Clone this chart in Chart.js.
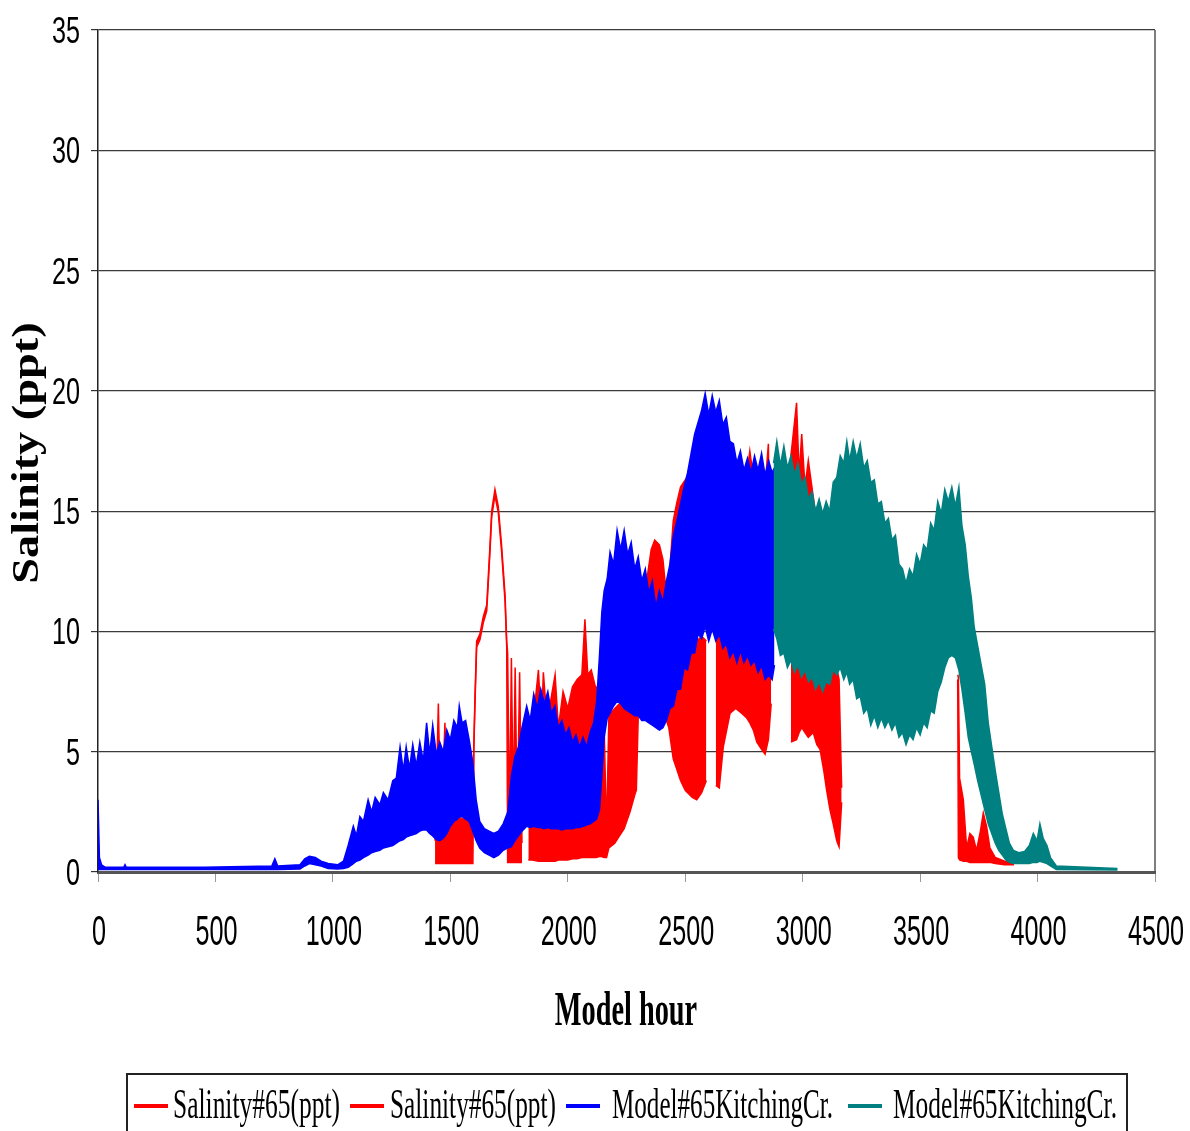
<!DOCTYPE html>
<html><head><meta charset="utf-8">
<script src="https://cdn.jsdelivr.net/npm/chart.js@4/dist/chart.umd.min.js"></script>
<style>html,body{margin:0;padding:0;background:#fff;}#wrap{width:1190px;height:1131px;position:relative;}</style>
</head><body><div id="wrap"><canvas id="c"></canvas></div>
<script>
// ---------- DATA ----------
const xTicks = [0, 500, 1000, 1500, 2000, 2500, 3000, 3500, 4000, 4500];
const yTicks = [0, 5, 10, 15, 20, 25, 30, 35];
const seriesNames = ['Salinity#65(ppt)', 'Salinity#65(ppt)', 'Model#65KitchingCr.', 'Model#65KitchingCr.'];
const xTitle = 'Model hour';
const yTitle = 'Salinity (ppt)';

// Observed salinity, first record (null = gap)
const salinity1Hours = [1435,1449,1460,1477,1490,1505,1530,1555,1580,1596,1600,1605,1612,1626,1640,1655,1669,1676,1690,1704,1718,1733,1740,1744,1752,1760,1768,1776,1785,1795,1805,1815,1832,1850,1875,1888,1896,1910,1925,1946,1960,1980,2000,2020,2040,2060,2073,2085,2100,2120,2140,2155,2165,2175,2200,2220,2240,2265,2285,2292,2300,2336,2355,2370,2390,2405,2414,2430,2449,2463,2480,2500,2510,2530,2549,2570,2590,2610,2630,2645,2662,2691,2715,2740,2762,2775,2790,2805,2825,2840,2854,2866];
const salinity1High = [1.3,7.0,1.4,6.2,1.5,2.0,2.3,2.2,2.3,2.3,5.3,7.3,9.6,9.9,10.6,11.1,13.6,15.0,15.9,15.2,13.6,11.5,9.6,9.1,2.0,8.9,2.5,8.5,2.0,8.3,1.2,null,2.0,6.0,8.4,6.0,8.3,6.5,7.0,8.2,6.0,7.5,6.8,7.7,8.0,8.2,10.5,8.2,8.4,7.6,8.0,6.0,1.6,6.5,6.8,7.0,6.9,6.8,6.6,6.6,11.0,12.1,13.4,13.8,13.6,13.0,12.1,12.0,14.6,15.3,16.0,16.3,9.5,9.2,9.6,9.8,9.6,null,10.4,10.4,9.6,9.4,9.3,9.4,16.5,17.5,16.4,9.0,9.0,16.0,17.8,9.0];
const salinity1Low = [0.35,0.35,0.35,0.35,0.35,0.35,0.35,0.35,0.35,0.35,5.05,7.05,9.35,9.65,10.35,10.85,13.35,14.75,15.65,14.95,13.35,11.25,9.35,0.4,0.4,0.4,0.4,0.4,0.4,0.4,0.4,null,0.5,0.5,0.45,0.45,0.45,0.45,0.45,0.45,0.5,0.5,0.5,0.55,0.55,0.6,0.6,0.6,0.6,0.6,0.65,0.6,0.6,1.0,1.2,1.5,1.8,2.5,3.2,3.4,6.5,6.5,6.5,6.5,6.5,6.5,6.5,6.0,4.7,4.3,3.8,3.4,3.3,3.1,3.0,3.3,3.8,null,3.6,3.5,5.2,6.6,6.8,6.6,6.4,6.2,5.9,5.4,5.1,4.9,5.5,7.0];

// Observed salinity, second record
const salinity2Hours = [2950,2974,2985,2996,3010,3024,3045,3060,3074,3090,3102,3116,3130,3145,3155,3166,3400,3660,3663,3668,3684,3698,3712,3726,3740,3755,3769,3783,3797,3820,3860,3900];
const salinity2High = [17.3,19.5,16.5,18.2,16.0,17.1,15.6,14.5,15.2,14.0,15.0,9.0,8.8,8.5,8.0,3.5,null,8.2,8.1,3.9,3.0,1.0,1.6,1.45,0.9,1.6,2.45,1.9,1.0,0.6,0.45,0.4];
const salinity2Low = [5.4,5.5,5.8,6.0,5.8,5.6,5.8,5.3,5.1,4.2,3.4,2.6,2.0,1.3,1.05,2.9,null,8.0,0.6,0.5,0.45,0.45,0.4,0.4,0.4,0.4,0.4,0.4,0.4,0.35,0.3,0.3];

// Model, first part (blue)
const model1Hours = [0,6,15,30,110,115,120,450,740,753,765,860,880,900,925,950,980,1020,1045,1065,1087,1100,1115,1130,1150,1165,1180,1200,1215,1235,1255,1270,1286,1300,1312,1326,1340,1355,1370,1385,1399,1412,1425,1440,1455,1470,1485,1500,1515,1530,1538,1550,1565,1580,1595,1610,1625,1645,1665,1685,1705,1725,1745,1760,1775,1790,1805,1825,1840,1855,1870,1885,1900,1915,1930,1945,1960,1975,1990,2005,2020,2035,2050,2065,2080,2095,2110,2123,2135,2145,2155,2168,2180,2195,2210,2225,2240,2255,2270,2285,2300,2315,2330,2345,2360,2375,2390,2405,2420,2435,2450,2465,2480,2495,2510,2525,2540,2555,2570,2585,2600,2615,2630,2645,2660,2675,2690,2705,2720,2735,2750,2765,2780,2795,2810,2825,2840,2855,2870,2880];
const model1High = [3.0,0.6,0.3,0.2,0.2,0.3,0.2,0.2,0.25,0.55,0.25,0.3,0.55,0.65,0.6,0.45,0.35,0.3,0.45,1.1,1.9,1.5,2.3,2.1,3.0,2.5,3.1,2.8,3.3,3.0,3.8,3.9,5.2,4.2,5.2,4.3,5.3,4.4,5.4,4.6,6.2,4.9,6.1,4.9,5.4,5.0,5.9,5.5,6.3,6.0,6.9,6.2,6.3,5.5,4.6,3.0,2.1,1.8,1.7,1.6,1.7,2.0,2.5,4.0,4.8,5.2,6.0,6.9,6.3,7.4,6.8,7.6,7.0,7.5,6.6,6.9,6.0,6.3,5.7,6.0,5.4,5.7,5.2,5.6,5.2,5.8,6.2,7.1,9.0,10.8,11.7,12.2,13.3,12.8,14.2,13.4,14.2,13.2,13.7,12.6,13.1,12.1,12.6,11.6,12.1,11.0,11.7,11.2,12.1,12.8,14.0,14.6,15.3,16.0,16.6,17.4,18.2,18.7,19.2,19.9,19.0,19.8,19.1,19.6,18.6,18.9,17.9,17.8,17.0,17.5,16.7,17.2,16.6,17.3,16.7,17.4,16.5,17.1,16.6,16.8];
const model1Low = [0.1,0.1,0.1,0.1,0.1,0.1,0.1,0.1,0.1,0.1,0.1,0.12,0.25,0.35,0.3,0.25,0.15,0.12,0.15,0.2,0.35,0.45,0.5,0.6,0.7,0.8,0.85,0.9,1.0,1.05,1.1,1.2,1.3,1.35,1.45,1.5,1.55,1.6,1.7,1.75,1.75,1.6,1.5,1.35,1.3,1.4,1.6,1.9,2.1,2.2,2.3,2.3,2.2,2.1,1.7,1.3,1.0,0.8,0.7,0.6,0.7,0.9,1.0,1.05,1.3,1.5,1.7,1.9,1.85,1.9,1.85,1.85,1.8,1.85,1.8,1.8,1.8,1.75,1.8,1.8,1.8,1.85,1.85,1.9,1.95,2.0,2.1,2.2,2.6,4.0,5.6,6.4,6.6,6.9,7.1,7.0,6.8,6.7,6.6,6.5,6.5,6.3,6.3,6.2,6.1,6.0,5.9,6.0,6.3,6.8,6.9,7.6,7.6,8.5,8.4,9.1,9.1,9.9,9.7,10.2,9.6,10.1,9.6,9.9,9.3,9.5,8.9,9.2,8.7,9.2,8.7,9.0,8.6,8.8,8.3,8.6,8.0,8.2,8.0,8.6];

// Model, second part (teal)
const model2Hours = [2876,2890,2905,2920,2935,2950,2965,2980,2995,3010,3025,3040,3055,3070,3085,3100,3115,3130,3145,3160,3175,3188,3200,3215,3230,3245,3260,3275,3290,3305,3320,3335,3350,3365,3380,3395,3410,3425,3440,3455,3470,3485,3500,3515,3530,3545,3560,3575,3590,3605,3620,3635,3650,3665,3678,3692,3705,3718,3730,3745,3760,3775,3790,3805,3820,3835,3850,3865,3880,3897,3920,3945,3965,3982,3998,4010,4024,4040,4055,4080,4340];
const model2High = [17.0,17.9,16.9,17.7,16.8,17.3,16.5,17.0,16.1,16.4,15.5,15.8,15.0,15.5,14.9,15.4,15.0,16.2,16.4,17.3,17.0,17.9,17.1,17.9,17.2,17.8,16.8,17.1,16.2,16.3,15.3,15.4,14.5,14.7,13.8,14.0,12.8,12.6,12.0,12.6,12.3,13.2,12.8,13.6,13.4,14.5,14.2,15.4,14.9,15.9,15.4,16.0,15.2,16.0,14.4,13.6,12.3,11.4,10.2,9.4,8.6,7.8,6.2,5.2,4.2,3.3,2.4,1.8,1.2,0.9,0.8,0.85,1.1,1.6,1.3,2.0,1.4,1.1,0.6,0.25,0.15];
const model2Low = [10.1,9.7,9.0,9.1,8.5,8.8,8.3,8.6,8.1,8.4,7.9,8.1,7.6,7.9,7.5,7.9,7.8,8.4,8.2,8.5,8.0,8.3,7.8,8.0,7.2,7.3,6.6,6.8,6.1,6.5,6.0,6.4,6.0,6.3,5.9,6.2,5.6,5.8,5.3,5.7,5.5,6.0,5.7,6.2,6.0,6.7,6.6,7.5,7.9,8.5,8.9,9.0,8.9,8.4,7.6,6.6,5.6,5.0,4.5,3.8,3.2,2.6,2.0,1.6,1.2,0.9,0.7,0.5,0.4,0.35,0.35,0.35,0.35,0.4,0.4,0.45,0.4,0.35,0.25,0.1,0.08];

// ---------- STYLES ----------
const seriesColors = ['#ff0000', '#ff0000', '#0000ff', '#008080'];

function bandSets(hours, high, low, color, label) {
  const segs = [];
  let seg = null;
  for (let i = 0; i < hours.length; i++) {
    if (high[i] === null || low[i] === null) { seg = null; continue; }
    if (!seg) { seg = { hi: [], lo: [] }; segs.push(seg); }
    seg.hi.push({ x: hours[i], y: high[i] });
    seg.lo.push({ x: hours[i], y: low[i] });
  }
  const out = [];
  segs.forEach(s => {
    out.push({ label: label, data: s.hi, borderColor: color, backgroundColor: color, borderWidth: 1.5, fill: '+1', pointRadius: 0 });
    out.push({ label: label, data: s.lo, borderColor: color, backgroundColor: color, borderWidth: 1.5, fill: false, pointRadius: 0 });
  });
  return out;
}

// index 0 is drawn on top: teal, blue, then the observed records
const datasets = [].concat(
  bandSets(model2Hours, model2High, model2Low, seriesColors[3], seriesNames[3]),
  bandSets(model1Hours, model1High, model1Low, seriesColors[2], seriesNames[2]),
  bandSets(salinity2Hours, salinity2High, salinity2Low, seriesColors[1], seriesNames[1]),
  bandSets(salinity1Hours, salinity1High, salinity1Low, seriesColors[0], seriesNames[0])
);

function squash(ctx, text, x, y, sx) {
  ctx.save(); ctx.translate(x, y); ctx.scale(sx, 1); ctx.fillText(text, 0, 0); ctx.restore();
}

const textPlugin = {
  id: 'texts',
  afterDraw(chart) {
    const ctx = chart.ctx, xs = chart.scales.x, ys = chart.scales.y, a = chart.chartArea;
    ctx.save();
    // right frame edge
    ctx.strokeStyle = '#555'; ctx.lineWidth = 1.5;
    ctx.beginPath(); ctx.moveTo(a.right, a.top); ctx.lineTo(a.right, a.bottom); ctx.stroke();

    ctx.fillStyle = '#000';
    ctx.textBaseline = 'alphabetic';
    // y tick labels
    ctx.font = '36px "Liberation Sans", Arial, sans-serif';
    ctx.textAlign = 'right';
    yTicks.forEach(v => squash(ctx, String(v), a.left - 18, ys.getPixelForValue(v) + 13, 0.7));
    // x tick labels
    ctx.font = '42px "Liberation Sans", Arial, sans-serif';
    ctx.textAlign = 'center';
    xTicks.forEach(v => squash(ctx, String(v), xs.getPixelForValue(v) + 1, a.bottom + 73, 0.6));
    // x title
    ctx.font = 'bold 48px "Liberation Serif", "Times New Roman", serif';
    squash(ctx, xTitle, 626, 1025, 0.59);
    // y title
    ctx.save();
    ctx.translate(38, 453);
    ctx.rotate(-Math.PI / 2);
    ctx.scale(1.22, 1);
    ctx.font = 'bold 38px "Liberation Serif", "Times New Roman", serif';
    ctx.textAlign = 'center';
    ctx.fillText(yTitle, 0, 0);
    ctx.restore();

    // legend
    ctx.strokeStyle = '#222'; ctx.lineWidth = 2;
    ctx.strokeRect(127, 1074, 1000, 80);
    const markX = [134, 350, 566, 848];
    const textX = [173, 390, 612, 893];
    const textW = [167, 166, 221, 224];
    ctx.font = '42px "Liberation Serif", "Times New Roman", serif';
    ctx.textAlign = 'left';
    seriesNames.forEach((n, i) => {
      ctx.strokeStyle = seriesColors[i]; ctx.lineWidth = 4;
      ctx.beginPath(); ctx.moveTo(markX[i], 1106); ctx.lineTo(markX[i] + 34, 1106); ctx.stroke();
      ctx.fillStyle = '#000';
      ctx.fillText(n, textX[i], 1118, textW[i]);
    });
    ctx.restore();
  }
};

new Chart(document.getElementById('c'), {
  type: 'line',
  data: { datasets: datasets },
  options: {
    responsive: true,
    maintainAspectRatio: false,
    animation: false,
    layout: { padding: { left: 98, right: 35, top: 30, bottom: 259 } },
    plugins: { legend: { display: false }, tooltip: { enabled: false } },
    elements: { point: { radius: 0 }, line: { tension: 0 } },
    scales: {
      x: {
        type: 'linear', min: 0, max: 4500,
        ticks: { stepSize: 500, display: false },
        grid: { drawOnChartArea: false, drawTicks: true, tickLength: 10, color: '#999', tickColor: '#999' },
        border: { display: true, color: '#555', width: 3 },
        afterFit: s => { s.height = 0; }
      },
      y: {
        type: 'linear', min: 0, max: 35,
        ticks: { stepSize: 5, display: false },
        grid: { color: '#3a3a3a', lineWidth: 1.2, drawTicks: true, tickLength: 7, tickColor: '#333' },
        border: { display: true, color: '#222', width: 1.5 },
        afterFit: s => { s.width = 0; }
      }
    }
  },
  plugins: [textPlugin]
});
</script></body></html>
